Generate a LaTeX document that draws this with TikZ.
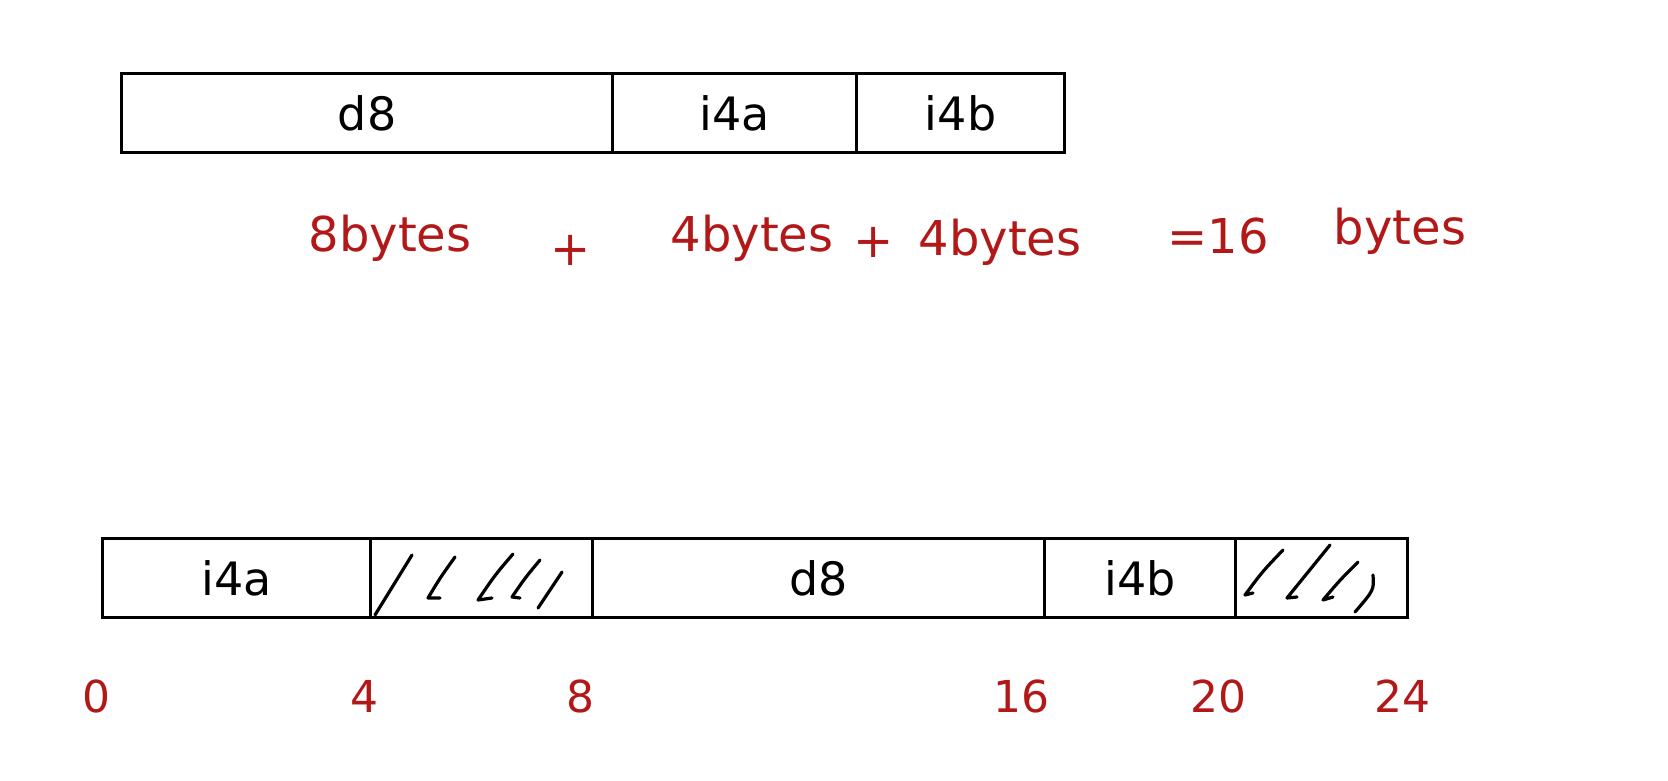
\documentclass[tikz,border=0pt]{standalone}
\usepackage{fontspec}
\setmainfont{DejaVu Sans}
\definecolor{pen}{RGB}{178,24,24}
\begin{document}
\begin{tikzpicture}[x=1pt,y=-1pt,
  cell/.style={draw=black,line width=3.2pt,minimum height=79pt,inner sep=0pt,anchor=north west},
  lab/.style={font=\fontsize{46}{52}\selectfont},
  note/.style={text=pen,font=\fontsize{48}{56}\selectfont},
  num/.style={text=pen,font=\fontsize{44}{52}\selectfont},
  hatch/.style={draw=black,line width=3.2pt,line cap=round,line join=round}]
\useasboundingbox[fill=white] (0,0) rectangle (1668,781);
% top bar
\node[cell,minimum width=491pt] (td8) at (120,72) {};
\node[cell,minimum width=244pt] (ti4a) at (611,72) {};
\node[cell,minimum width=208pt] (ti4b) at (855,72) {};
\node[lab] at (td8.center) {d8};
\node[lab] at (ti4a.center) {i4a};
\node[lab] at (ti4b.center) {i4b};
% sum
\node[note] (s1) at (390,238) {8bytes};
\node[note] (s2) at (571,250) {+};
\node[note] (s3) at (752,238) {4bytes};
\node[note] (s4) at (874,242) {+};
\node[note] (s5) at (1000,242) {4bytes};
\node[note] (s6) at (1218,236) {=16};
\node[note] (s7) at (1400,231) {bytes};
% bottom bar
\node[cell,minimum width=268pt] (bi4a) at (101,537) {};
\node[cell,minimum width=222pt] (bp1) at (369,537) {};
\node[cell,minimum width=452pt] (bd8) at (591,537) {};
\node[cell,minimum width=191pt] (bi4b) at (1043,537) {};
\node[cell,minimum width=172pt] (bp2) at (1234,537) {};
\node[lab] at (bi4a.center) {i4a};
\node[lab] at (bd8.center) {d8};
\node[lab] at (bi4b.center) {i4b};
% hatches padding 1
\draw[hatch] (412,555) -- (375,615);
\draw[hatch] (455,557) .. controls (440,578) .. (428,598) -- (440,598);
\draw[hatch] (513,554) .. controls (495,575) .. (478,600) -- (492,598);
\draw[hatch] (540,560) .. controls (525,578) .. (512,597) -- (520,598);
\draw[hatch] (562,572) -- (538,608);
% hatches padding 2
\draw[hatch] (1283,550) .. controls (1262,572) .. (1245,595) -- (1253,593);
\draw[hatch] (1330,545) .. controls (1308,572) .. (1287,598) -- (1297,597);
\draw[hatch] (1358,562) .. controls (1340,580) .. (1323,600) -- (1333,597);
\draw[hatch] (1373,575) .. controls (1374,590) .. (1355,612);
% offsets
\node[num] (n0) at (96,696) {0};
\node[num] (n4) at (364,696) {4};
\node[num] (n8) at (580,696) {8};
\node[num] (n16) at (1021,696) {16};
\node[num] (n20) at (1218,696) {20};
\node[num] (n24) at (1402,696) {24};
\end{tikzpicture}
\end{document}
